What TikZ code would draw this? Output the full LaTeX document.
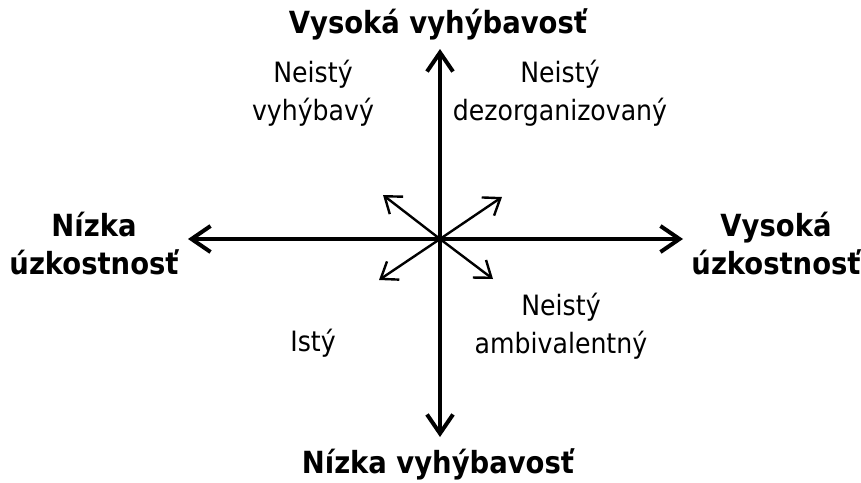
\documentclass[tikz,border=0pt]{standalone}
\usepackage{fontspec}
\setmainfont{DejaVu Sans Condensed}
\usetikzlibrary{arrows.meta}
\tikzset{
  axis/.style={line width=4pt, {Straight Barb[length=19pt,width=26pt,line width=4pt]}-{Straight Barb[length=19pt,width=26pt,line width=4pt]}},
  diag/.style={line width=2.4pt, -{Straight Barb[length=15pt,width=22pt,line width=2.4pt]}},
  pole/.style={font=\fontsize{30.5}{38}\selectfont\bfseries, align=center, inner sep=0pt},
  style/.style={font=\fontsize{28}{37.5}\selectfont, align=center, inner sep=0pt}
}
\begin{document}
\begin{tikzpicture}[x=1pt,y=-1pt]
\useasboundingbox (0,0) rectangle (861,482);
% axes
\coordinate (c) at (440,239);
\coordinate (top) at (440,49);
\coordinate (bot) at (440,437);
\coordinate (lft) at (188,239);
\coordinate (rgt) at (683,239);
\draw[axis] (bot) -- (top);
\draw[axis] (lft) -- (rgt);
% diagonal arrows from the centre
\coordinate (ul) at (383,195);
\coordinate (ur) at (502,197);
\coordinate (ll) at (379,280);
\coordinate (lr) at (493,279);
\foreach \p in {ul,ur,ll,lr} \draw[diag] (c) -- (\p);
% pole labels
\node[pole] (hiavoid) at (438,24) {Vysoká vyhýbavosť};
\node[pole] (loavoid) at (438,464) {Nízka vyhýbavosť};
\node[pole] (loanx) at (94,244) {Nízka\\úzkostnosť};
\node[pole] (hianx) at (776,244) {Vysoká\\úzkostnosť};
% quadrant labels
\node[style] (avoidant) at (313,93) {Neistý\\vyhýbavý};
\node[style] (disorg) at (560,93) {Neistý\\dezorganizovaný};
\node[style] (ambiv) at (561,326) {Neistý\\ambivalentný};
\node[style] (secure) at (313,343) {Istý};
\end{tikzpicture}
\end{document}
